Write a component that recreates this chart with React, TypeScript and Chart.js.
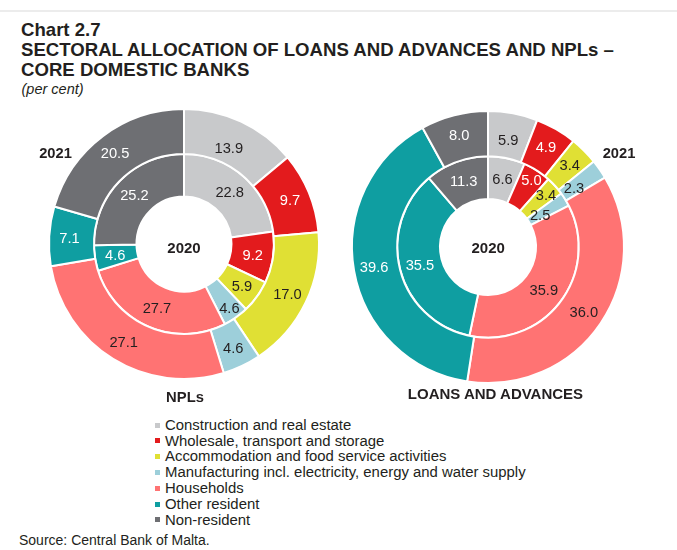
import React, { useEffect, useRef } from 'react';
import { Chart, registerables } from 'chart.js';

Chart.register(...registerables);

const categories = [
  'Construction and real estate',
  'Wholesale, transport and storage',
  'Accommodation and food service activities',
  'Manufacturing incl. electricity, energy and water supply',
  'Households',
  'Other resident',
  'Non-resident',
];
const npl2021 = [13.9, 9.7, 17.0, 4.6, 27.1, 7.1, 20.5];
const npl2020 = [22.8, 9.2, 5.9, 4.6, 27.7, 4.6, 25.2];
const loans2021 = [5.9, 4.9, 3.4, 2.3, 36.0, 39.6, 8.0];
const loans2020 = [6.6, 5.0, 3.4, 2.5, 35.9, 35.5, 11.3];

// styles
const colors = ['#C8C9CB', '#E31B1D', '#E0E034', '#9DCFDA', '#FF7373', '#0F9EA1', '#6E6F73'];
const whiteText = [false, true, false, false, false, true, true];
const nplShiftOuter = [-9, 0, 0, 0, 0, 0, 0];
const nplShiftInner = [0, 0, 2, 9, 0, 0, 0];
const loansShiftOuter = [-6, 0, 0, -11, 0, 0, 0];
const loansShiftInner = [0, 10, 8, -9, 0, 0, 0];

const FONT = '"Liberation Sans", Arial, Helvetica, sans-serif';
const DARK = '#231F20';

const ringLabels = {
  id: 'ringLabels',
  afterDatasetsDraw(chart: any, _args: any, opts: any) {
    const ctx = chart.ctx;
    const F = 14.7;
    ctx.save();
    ctx.font = `${F}px ${FONT}`;
    ctx.textAlign = 'center';
    ctx.textBaseline = 'alphabetic';
    chart.data.datasets.forEach((ds: any, di: number) => {
      const meta = chart.getDatasetMeta(di);
      const frac = di === 0 ? 0.55 : 0.52;
      const shifts = (opts.shifts && opts.shifts[di]) || [];
      meta.data.forEach((arc: any, i: number) => {
        const p = arc.getProps(['startAngle', 'endAngle', 'innerRadius', 'outerRadius', 'x', 'y'], true);
        const mid = (p.startAngle + p.endAngle) / 2;
        const r = p.innerRadius + (p.outerRadius - p.innerRadius) * frac + (shifts[i] || 0);
        const x = p.x + r * Math.cos(mid);
        const y = p.y + r * Math.sin(mid);
        ctx.fillStyle = whiteText[i] ? '#FFFFFF' : DARK;
        ctx.fillText(Number(ds.data[i]).toFixed(1), x, y + 0.358 * F);
      });
    });
    ctx.restore();
  },
};

function Ring(props: {
  left: number; top: number; size: number; radius: number; cutout: string;
  outer: number[]; inner: number[]; shiftOuter: number[]; shiftInner: number[];
}) {
  const ref = useRef<HTMLCanvasElement>(null);
  useEffect(() => {
    const chart = new Chart(ref.current as HTMLCanvasElement, {
      type: 'doughnut',
      data: {
        labels: categories,
        datasets: [
          { label: '2021', data: props.outer, backgroundColor: colors, borderColor: '#FFFFFF', borderWidth: 2, weight: 45 } as any,
          { label: '2020', data: props.inner, backgroundColor: colors, borderColor: '#FFFFFF', borderWidth: 2, weight: 42.5 } as any,
        ],
      },
      options: {
        responsive: false,
        animation: false,
        events: [],
        radius: props.radius,
        cutout: props.cutout,
        layout: { padding: 0 },
        plugins: {
          legend: { display: false },
          tooltip: { enabled: false },
          ringLabels: { shifts: [props.shiftOuter, props.shiftInner] },
        } as any,
      } as any,
      plugins: [ringLabels as any],
    });
    return () => chart.destroy();
  }, []);
  return (
    <canvas
      ref={ref}
      width={props.size}
      height={props.size}
      style={{ position: 'absolute', left: props.left, top: props.top, width: props.size, height: props.size }}
    />
  );
}

function Txt(props: {
  x: number; baseline: number; size: number; bold?: boolean; italic?: boolean;
  center?: boolean; children: React.ReactNode;
}) {
  const F = props.size;
  const L = Math.round(F * 1.2);
  const off = (L - 1.117 * F) / 2 + 0.905 * F;
  const top = props.baseline - off;
  const style: React.CSSProperties = {
    position: 'absolute',
    top,
    left: props.center ? props.x - 200 : props.x,
    width: props.center ? 400 : undefined,
    textAlign: props.center ? 'center' : 'left',
    fontFamily: FONT,
    fontSize: F,
    lineHeight: `${L}px`,
    fontWeight: props.bold ? 'bold' : 'normal',
    fontStyle: props.italic ? 'italic' : 'normal',
    color: DARK,
    whiteSpace: 'nowrap',
  };
  return <div style={style}>{props.children}</div>;
}

export default function App() {
  return (
    <div style={{ position: 'absolute', left: 0, top: 0, width: 677, height: 550, background: '#FFFFFF', overflow: 'hidden' }}>
      <div style={{ position: 'absolute', left: 0, top: 10, width: 677, height: 2, background: '#ECECEC' }} />
      <Txt x={21} baseline={36.7} size={18.6} bold>Chart 2.7</Txt>
      <Txt x={21} baseline={56.7} size={18.6} bold>SECTORAL ALLOCATION OF LOANS AND ADVANCES AND NPLs –</Txt>
      <Txt x={21} baseline={76.7} size={18.6} bold>CORE DOMESTIC BANKS</Txt>
      <Txt x={21.5} baseline={95} size={14.5} italic>(per cent)</Txt>

      <Ring left={34} top={94} size={300} radius={135} cutout="35.2%"
        outer={npl2021} inner={npl2020} shiftOuter={nplShiftOuter} shiftInner={nplShiftInner} />
      <Ring left={338} top={97} size={300} radius={136} cutout="35.3%"
        outer={loans2021} inner={loans2020} shiftOuter={loansShiftOuter} shiftInner={loansShiftInner} />

      <Txt x={55.5} baseline={158.5} size={14.7} bold center>2021</Txt>
      <Txt x={619} baseline={158.2} size={14.7} bold center>2021</Txt>
      <Txt x={184} baseline={252.9} size={15} bold center>2020</Txt>
      <Txt x={488.2} baseline={252.9} size={15} bold center>2020</Txt>
      <Txt x={185} baseline={402.2} size={14.8} bold center>NPLs</Txt>
      <Txt x={495.5} baseline={399} size={15} bold center>LOANS AND ADVANCES</Txt>

      {categories.map((c, i) => {
        const b = 430 + 15.83 * i;
        return (
          <React.Fragment key={c}>
            <div style={{ position: 'absolute', left: 155, top: b - 7.5, width: 5, height: 5, background: colors[i] }} />
            <Txt x={165} baseline={b} size={14.9}>{c}</Txt>
          </React.Fragment>
        );
      })}

      <Txt x={19} baseline={545} size={14}>Source: Central Bank of Malta.</Txt>
    </div>
  );
}
